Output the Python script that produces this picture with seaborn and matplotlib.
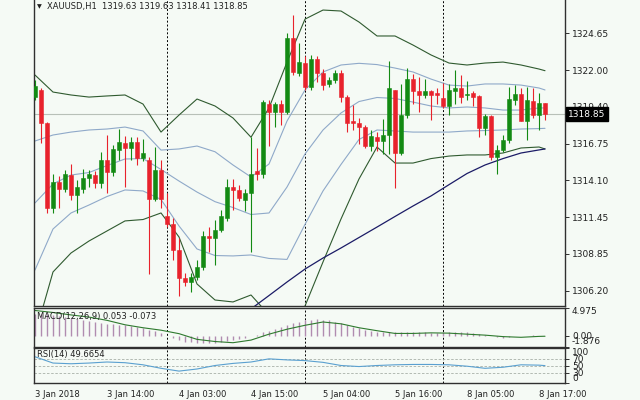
import numpy as np
import matplotlib
matplotlib.use('Agg')
import matplotlib.pyplot as plt
import matplotlib.transforms as mtransforms
import seaborn as sns

sns.set_style('white')
plt.rcParams['font.family'] = ['DejaVu Sans']

# ---------------------------------------------------------------------------
# XAUUSD H1 candles (bar 0 = 3 Jan 02:00)
# ---------------------------------------------------------------------------
opens = np.array([
    1320.1, 1320.6, 1318.2, 1312.1, 1314.0, 1313.5, 1314.5, 1313.05, 1313.5, 1314.25,
    1314.5, 1313.9, 1315.55, 1314.7, 1316.3, 1316.8, 1316.4, 1316.85, 1315.7, 1315.6,
    1312.8, 1314.85, 1311.55, 1311.0, 1309.1, 1307.1, 1306.85, 1307.2, 1307.9, 1310.1,
    1310.0, 1310.55, 1311.4, 1313.65, 1313.4, 1312.7, 1313.2, 1314.75, 1314.6, 1319.6,
    1319.03, 1319.6, 1319.03, 1324.3, 1321.78, 1322.54, 1320.78, 1322.78, 1321.82, 1321.0,
    1321.3, 1321.8, 1320.1, 1318.35, 1318.2, 1317.9, 1316.55, 1317.2, 1316.9, 1317.35,
    1320.6, 1316.05, 1318.8, 1321.35, 1320.5, 1320.2, 1320.5, 1320.35, 1320.0, 1319.45,
    1320.55, 1320.75, 1320.2, 1320.35, 1320.15, 1317.85, 1318.75, 1315.8, 1316.3, 1317.0,
    1319.9, 1320.3, 1318.4, 1319.8, 1318.8, 1319.63])
highs = np.array([
    1321.3, 1320.7, 1318.3, 1314.6, 1314.4, 1314.85, 1315.3, 1314.1, 1314.95, 1314.85,
    1314.75, 1316.15, 1317.35, 1316.65, 1317.8, 1317.3, 1317.2, 1317.2, 1317.1, 1315.8,
    1316.5, 1315.57, 1313.2, 1311.4, 1309.95, 1307.45, 1307.45, 1308.4, 1310.45, 1310.8,
    1311.3, 1312.0, 1314.2, 1314.2, 1313.8, 1313.5, 1317.25, 1316.4, 1319.85, 1319.87,
    1319.75, 1319.9, 1324.65, 1325.96, 1323.93, 1323.0, 1323.1, 1323.0, 1322.1, 1321.5,
    1322.0, 1322.0, 1320.2, 1319.5, 1318.55, 1318.1, 1317.7, 1317.6, 1318.5, 1322.7,
    1320.6, 1321.0, 1322.2, 1321.7, 1321.5, 1321.4, 1320.6, 1320.7, 1321.1, 1321.0,
    1322.0, 1321.65, 1321.2, 1320.55, 1320.2, 1318.9, 1318.8, 1316.65, 1317.35, 1320.8,
    1320.95, 1320.7, 1320.8, 1320.7, 1320.35, 1319.63])
lows = np.array([
    1319.9, 1316.8, 1311.8, 1311.8, 1312.1, 1313.3, 1312.7, 1311.8, 1313.2, 1313.65,
    1313.55, 1313.55, 1313.2, 1314.4, 1315.57, 1313.6, 1315.6, 1315.2, 1315.5, 1307.4,
    1312.6, 1312.1, 1310.8, 1308.4, 1305.8, 1306.5, 1306.1, 1307.0, 1307.7, 1309.0,
    1308.05, 1310.4, 1311.2, 1311.95, 1312.6, 1311.9, 1309.0, 1314.1, 1314.3, 1316.6,
    1317.95, 1318.1, 1318.9, 1321.66, 1321.6, 1320.6, 1320.6, 1321.18, 1320.6, 1320.8,
    1321.1, 1319.7, 1317.6, 1317.7, 1316.7, 1316.4, 1316.2, 1316.2, 1316.0, 1316.0,
    1313.55, 1315.9, 1318.6, 1319.6, 1319.0, 1320.0, 1318.45, 1319.6, 1319.3, 1318.8,
    1319.6, 1319.65, 1319.9, 1319.45, 1317.25, 1317.35, 1315.6, 1314.6, 1316.15, 1316.8,
    1319.5, 1318.35, 1317.0, 1318.6, 1317.7, 1318.41])
closes = np.array([
    1320.9, 1318.2, 1312.1, 1314.0, 1313.5, 1314.55, 1313.05, 1313.6, 1314.25, 1314.55,
    1313.95, 1315.55, 1314.7, 1316.35, 1316.85, 1316.4, 1316.85, 1315.7, 1316.1, 1312.8,
    1314.85, 1312.8, 1311.0, 1309.1, 1307.1, 1306.85, 1307.2, 1307.9, 1310.1, 1310.0,
    1310.55, 1311.55, 1313.65, 1313.4, 1312.85, 1313.2, 1314.6, 1314.6, 1319.75, 1319.03,
    1319.6, 1319.03, 1324.3, 1321.9, 1322.6, 1320.78, 1322.78, 1321.82, 1320.94, 1321.3,
    1321.8, 1320.1, 1318.2, 1318.2, 1317.9, 1316.55, 1317.3, 1316.95, 1317.35, 1320.7,
    1316.05, 1318.8, 1321.35, 1320.5, 1320.2, 1320.5, 1320.2, 1320.25, 1319.45, 1320.6,
    1320.75, 1320.1, 1320.3, 1320.1, 1317.85, 1318.75, 1315.75, 1316.3, 1317.0, 1319.95,
    1320.3, 1318.4, 1319.85, 1318.8, 1319.65, 1318.85])

# indicator lines read every third bar
line_bars = list(range(0, 85, 3)) + [85]
bb_outer_up = [1321.66, 1320.44, 1320.23, 1320.08, 1320.16, 1320.23, 1319.58, 1317.57, 1318.79, 1319.94,
               1319.44, 1318.58, 1317.2, 1319.3, 1322.59, 1325.67, 1326.32, 1326.25, 1325.46, 1324.46,
               1324.46, 1323.81, 1323.1, 1322.52, 1322.38, 1322.52, 1322.59, 1322.38, 1322.09, 1321.97]
bb_up = [1316.93, 1317.36, 1317.57, 1317.72, 1317.79, 1317.93, 1317.65, 1316.28, 1316.36, 1316.57,
         1316.16, 1315.21, 1314.35, 1315.28, 1318.36, 1320.59, 1321.88, 1322.38, 1322.5, 1322.41,
         1322.16, 1321.88, 1321.37, 1320.94, 1320.87, 1321.02, 1321.02, 1320.94, 1320.73, 1320.59]
bb_mid = [1312.49, 1313.85, 1314.49, 1314.67, 1315.17, 1315.64, 1315.67, 1314.89, 1314.06, 1313.27,
          1312.58, 1312.16, 1311.66, 1311.77, 1313.63, 1316.0, 1317.72, 1318.94, 1319.76, 1320.05,
          1319.98, 1319.72, 1319.44, 1319.3, 1319.37, 1319.3, 1319.15, 1319.15, 1319.3, 1319.3]
bb_lo = [1307.68, 1310.62, 1311.77, 1312.34, 1312.95, 1313.42, 1313.35, 1312.74, 1310.84, 1309.19,
         1308.72, 1308.69, 1308.76, 1308.51, 1308.44, 1310.95, 1313.35, 1315.25, 1317.04, 1317.72,
         1317.65, 1317.57, 1317.57, 1317.57, 1317.65, 1317.68, 1317.72, 1317.79, 1317.82, 1317.84]
bb_outer_lo = [1303.02, 1307.54, 1308.9, 1309.76, 1310.48, 1311.2, 1311.3, 1311.77, 1310.05, 1306.68,
               1305.53, 1305.39, 1305.89, 1304.46, 1303.02, 1305.1, 1308.26, 1311.34, 1314.21, 1316.5,
               1315.35, 1315.35, 1315.67, 1315.85, 1315.93, 1315.93, 1316.07, 1316.43, 1316.5, 1316.36]
slow_ma = [np.nan] * 11 + [1303.38, 1304.89, 1305.85, 1306.82, 1307.75, 1308.54, 1309.26, 1310.01,
                           1310.76, 1311.52, 1312.27, 1312.99, 1313.8, 1314.6, 1315.21, 1315.67,
                           1316.07, 1316.29, 1316.36]

# MACD(12,26,9): histogram for every bar, signal read every third bar
macd_hist = np.array([
    3.9, 3.9, 3.8, 3.6, 3.5, 3.3, 3.1, 2.9, 2.75, 2.6,
    2.45, 2.3, 2.15, 2.05, 1.95, 1.85, 1.7, 1.55, 1.4, 1.05,
    0.8, 0.55, -0.05, -0.4, -0.75, -1.0, -1.15, -1.25, -1.3, -1.3,
    -1.25, -1.15, -0.95, -0.75, -0.5, -0.3, -0.05, 0.2, 0.6, 0.9,
    1.2, 1.5, 1.9, 2.2, 2.5, 2.7, 2.85, 2.9, 2.85, 2.7,
    2.5, 2.2, 1.9, 1.6, 1.3, 1.05, 0.85, 0.7, 0.6, 0.65,
    0.6, 0.6, 0.65, 0.65, 0.6, 0.6, 0.55, 0.55, 0.6, 0.65,
    0.7, 0.65, 0.6, 0.5, 0.35, 0.2, 0.0, -0.2, -0.3, -0.25,
    -0.05, 0.05, 0.05, 0.1, 0.05, 0.053])
macd_signal = [4.45, 4.1, 3.67, 3.29, 2.72, 1.94, 1.42, 0.99, 0.38, -0.62,
               -1.0, -1.21, -0.75, 0.29, 1.16, 1.85, 2.43, 2.11, 1.42, 0.9,
               0.42, 0.42, 0.52, 0.47, 0.29, 0.12, -0.14, -0.26, -0.1, -0.073]
macd_range = (-1.876, 4.975)

rsi = [75, 57, 55, 57, 60, 58, 52, 42, 34, 40, 50, 56, 60, 69, 66, 64, 59, 50, 47, 50,
       52, 53, 53, 52, 48, 42, 45, 52, 51, 49.67]

price_ticks = [1324.65, 1322.00, 1319.40, 1316.75, 1314.10, 1311.45, 1308.85, 1306.20]
last_price = 1318.85
day_breaks = [22, 45, 68]
time_bars = [0, 12, 24, 36, 48, 60, 72, 84]
time_labels = ['3 Jan 2018', '3 Jan 14:00', '4 Jan 03:00', '4 Jan 15:00',
               '5 Jan 04:00', '5 Jan 16:00', '8 Jan 05:00', '8 Jan 17:00']

# ---------------------------------------------------------------------------
BG = '#f5faf5'
BULL = '#138a13'
BEAR = '#e8222c'
OUTER = '#2f5a2f'
INNER = '#8fa9c9'
FS = 6

W, H = 640, 400
fig = plt.figure(figsize=(6.4, 4.0), dpi=100, facecolor=BG)


def panel(top, bottom):
    return fig.add_axes([33.5 / W, 1 - bottom / H, 531.5 / W, (bottom - top) / H], facecolor=BG)


ax = panel(0, 306)
ax_m = panel(307.5, 346.5)
ax_r = panel(348, 383)

bars = np.arange(len(opens))
col = np.where(closes >= opens, BULL, BEAR)
ax.vlines(bars, lows, highs, colors=col, lw=0.8, zorder=3)
body = np.maximum(np.abs(closes - opens), 0.07)
ax.bar(bars, body, bottom=np.minimum(opens, closes), width=0.62, color=col,
       edgecolor=col, lw=0.4, zorder=4)

for vals, c, w in [(bb_outer_up, OUTER, 0.8), (bb_outer_lo, OUTER, 0.8),
                   (bb_up, INNER, 0.8), (bb_mid, INNER, 0.8), (bb_lo, INNER, 0.8),
                   (slow_ma, '#1b1b66', 0.9)]:
    sns.lineplot(x=line_bars, y=vals, ax=ax, color=c, lw=w, zorder=2)

ax.axhline(last_price, color='#b8c0b8', lw=0.8, zorder=1)

for a in (ax, ax_m, ax_r):
    a.set_xlim(-0.25, 88.33)
    for b in day_breaks:
        a.axvline(b, color='black', lw=0.7, ls=(0, (2, 2)), zorder=1)
    a.set_xticks([])
    for s in ('left', 'right', 'top', 'bottom'):
        a.spines[s].set_color('#303030')
        a.spines[s].set_linewidth(1.0)
    a.yaxis.tick_right()
    a.tick_params(axis='y', length=3, width=0.7, color='#303030', pad=2,
                  labelsize=FS + 0.5, labelcolor='#202020')
    a.set_ylabel('')
ax.spines['top'].set_visible(False)

ax.set_ylim(1305.10, 1327.04)
ax.set_yticks(price_ticks)
ax.set_yticklabels([f'{p:.2f}' for p in price_ticks])

tr = mtransforms.blended_transform_factory(ax.transAxes, ax.transData)
ax.text(1.006, last_price, f'{last_price:.2f}', transform=tr, color='white',
        fontsize=FS + 0.5, va='center', ha='left', zorder=10, clip_on=False,
        bbox=dict(boxstyle='square,pad=0.25', fc='black', ec='black'))

# MACD panel
ax_m.vlines(bars, 0, macd_hist, colors='#b08cb0', lw=1.0)
sns.lineplot(x=line_bars, y=macd_signal, ax=ax_m, color='#2e7a2e', lw=0.8)
ax_m.set_ylim(*macd_range)
ax_m.set_yticks([macd_range[1], 0, macd_range[0]])
ax_m.set_yticklabels([f'{macd_range[1]:.3f}', '0.00', f'{macd_range[0]:.3f}'])
ax_m.text(0.006, 0.78, f'MACD(12,26,9) {macd_hist[-1]:.3f} {macd_signal[-1]:.3f}',
          transform=ax_m.transAxes, fontsize=FS, color='#202020', va='center')

# RSI panel
for lvl in (70, 50, 30):
    ax_r.axhline(lvl, color='#a8b0a8', lw=0.6, ls=(0, (3, 2)))
sns.lineplot(x=line_bars, y=rsi, ax=ax_r, color='#5aa0d0', lw=0.8)
ax_r.set_ylim(0, 100)
ax_r.set_yticks([100, 70, 50, 30, 0])
ax_r.set_yticklabels(['100', '70', '50', '30', '0'])
ax_r.text(0.006, 0.8, f'RSI(14) {rsi[-1]:.4f}'.replace('49.6700', '49.6654'),
          transform=ax_r.transAxes, fontsize=FS, color='#202020', va='center')

for a, top_lbl, bot_lbl in ((ax_m, 0, 2), (ax_r, 0, 4)):
    labs = a.get_yticklabels()
    labs[top_lbl].set_va('top')
    labs[bot_lbl].set_va('bottom')

ax_r.set_xticks(time_bars)
ax_r.set_xticklabels(time_labels, fontsize=FS, ha='left', color='#202020')
ax_r.tick_params(axis='x', length=0, pad=5)

fig.text(37 / W, 1 - 7 / H, '\u25bc', fontsize=4.5, va='center', color='#202020')
fig.text(47 / W, 1 - 7 / H, 'XAUUSD,H1  1319.63 1319.63 1318.41 1318.85',
         fontsize=FS, va='center', color='#202020')

fig.savefig('out.png', dpi=100, facecolor=BG)
